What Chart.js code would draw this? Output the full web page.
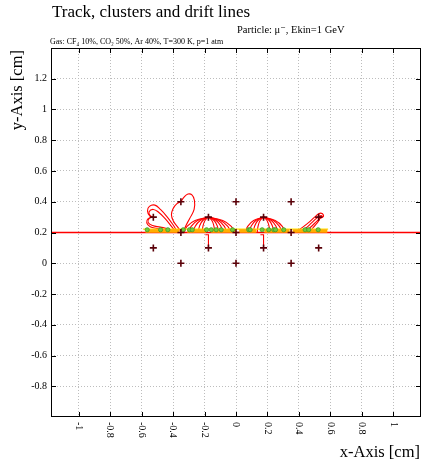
<!DOCTYPE html>
<html>
<head>
<meta charset="utf-8">
<script src="https://cdn.jsdelivr.net/npm/chart.js@4.4.1/dist/chart.umd.min.js"></script>
<style>
html,body{margin:0;padding:0;background:#fff;}
canvas{display:block;}
</style>
</head>
<body>
<canvas id="c" width="423" height="468"></canvas>
<script>
// ---- data ----
const titleText = "Track, clusters and drift lines";
const particleText = "Particle: \u03bc\u207b, Ekin=1 GeV";
const gasText = "Gas: CF\u2084 10%, CO\u2082 50%, Ar 40%, T=300 K, p=1 atm";
const xAxisTitle = "x-Axis [cm]";
const yAxisTitle = "y-Axis [cm]";

const xTicks = [-1, -0.8, -0.6, -0.4, -0.2, 0, 0.2, 0.4, 0.6, 0.8, 1];
const xTickLabels = ["-1", "-0.8", "-0.6", "-0.4", "-0.2", "0", "0.2", "0.4", "0.6", "0.8", "1"];
const yTicks = [-0.8, -0.6, -0.4, -0.2, 0, 0.2, 0.4, 0.6, 0.8, 1, 1.2];
const yTickLabels = ["-0.8", "-0.6", "-0.4", "-0.2", "0", "0.2", "0.4", "0.6", "0.8", "1", "1.2"];
const xRange = [-1.175, 1.175];
const yRange = [-1, 1.4];

// track
const trackX = [-1.175, 1.175];
const trackY = [0.2, 0.2];

// sense wires
const wireX = [-0.35, 0, 0.35, -0.525, -0.175, 0.175, 0.525, -0.35, 0, 0.35, -0.525, -0.175, 0.175, 0.525, -0.35, 0, 0.35];
const wireY = [0.4, 0.4, 0.4, 0.3, 0.3, 0.3, 0.3, 0.2, 0.2, 0.2, 0.1, 0.1, 0.1, 0.1, 0, 0, 0];

// clusters (green)
const clusterX = [-0.564, -0.479, -0.433, -0.335, -0.295, -0.278, -0.187, -0.157, -0.126, -0.094, -0.022, 0.081, 0.090, 0.166, 0.208, 0.240, 0.251, 0.303, 0.439, 0.462, 0.522];
const clusterY = [0.218, 0.218, 0.218, 0.218, 0.218, 0.218, 0.218, 0.218, 0.218, 0.218, 0.218, 0.218, 0.218, 0.218, 0.218, 0.218, 0.218, 0.218, 0.218, 0.218, 0.218];

// yellow line along the track
const yellowX = [-0.59, 0.585];
const yellowY = [0.222, 0.222];

// orange segments (start, end) at y = orangeY
const orangeStart = [-0.575, -0.31, -0.16, 0.02, 0.18, 0.36];
const orangeEnd   = [-0.36, -0.19, 0.0, 0.13, 0.34, 0.58];
const orangeY = 0.21;

// drift lines: each line is a list of [x, y]
const driftToWireA = [ // wire (-0.525, 0.3)
  [[-0.37,0.2],[-0.40,0.25],[-0.44,0.305],[-0.48,0.35],[-0.515,0.378],[-0.55,0.37],[-0.562,0.34],[-0.548,0.308],[-0.525,0.3]],
  [[-0.38,0.2],[-0.41,0.24],[-0.45,0.29],[-0.49,0.33],[-0.525,0.35],[-0.552,0.335],[-0.545,0.31],[-0.525,0.3]],
  [[-0.39,0.2],[-0.43,0.222],[-0.48,0.235],[-0.53,0.245],[-0.558,0.265],[-0.552,0.29],[-0.525,0.3]],
  [[-0.40,0.2],[-0.45,0.215],[-0.50,0.226],[-0.545,0.238],[-0.567,0.262],[-0.558,0.29],[-0.525,0.3]]
];
const driftToWireB = [ // wire (-0.35, 0.4)
  [[-0.345,0.2],[-0.37,0.235],[-0.398,0.275],[-0.41,0.315],[-0.40,0.355],[-0.375,0.388],[-0.35,0.4]],
  [[-0.335,0.2],[-0.32,0.24],[-0.295,0.29],[-0.266,0.35],[-0.264,0.41],[-0.28,0.445],[-0.305,0.45],[-0.33,0.43],[-0.35,0.4]]
];
const driftToWireC = [ // wire (-0.175, 0.3)
  [[-0.33,0.2],[-0.311,0.24],[-0.26,0.278],[-0.175,0.3]],
  [[-0.30,0.2],[-0.285,0.24],[-0.244,0.278],[-0.175,0.3]],
  [[-0.27,0.2],[-0.259,0.24],[-0.227,0.278],[-0.175,0.3]],
  [[-0.24,0.2],[-0.232,0.24],[-0.211,0.278],[-0.175,0.3]],
  [[-0.215,0.2],[-0.21,0.24],[-0.197,0.278],[-0.175,0.3]],
  [[-0.135,0.2],[-0.14,0.24],[-0.153,0.278],[-0.175,0.3]],
  [[-0.11,0.2],[-0.118,0.24],[-0.139,0.278],[-0.175,0.3]],
  [[-0.085,0.2],[-0.096,0.24],[-0.1255,0.278],[-0.175,0.3]],
  [[-0.06,0.2],[-0.074,0.24],[-0.112,0.278],[-0.175,0.3]],
  [[-0.035,0.2],[-0.052,0.24],[-0.098,0.278],[-0.175,0.3]],
  [[-0.01,0.2],[-0.03,0.24],[-0.084,0.278],[-0.175,0.3]]
];
const driftToWireD = [ // wire (0.175, 0.3)
  [[0.06,0.2],[0.074,0.24],[0.112,0.278],[0.175,0.3]],
  [[0.085,0.2],[0.096,0.24],[0.1255,0.278],[0.175,0.3]],
  [[0.11,0.2],[0.118,0.24],[0.139,0.278],[0.175,0.3]],
  [[0.135,0.2],[0.14,0.24],[0.153,0.278],[0.175,0.3]],
  [[0.215,0.2],[0.21,0.24],[0.197,0.278],[0.175,0.3]],
  [[0.24,0.2],[0.232,0.24],[0.211,0.278],[0.175,0.3]],
  [[0.265,0.2],[0.254,0.24],[0.2245,0.278],[0.175,0.3]],
  [[0.29,0.2],[0.276,0.24],[0.238,0.278],[0.175,0.3]],
  [[0.31,0.2],[0.294,0.24],[0.249,0.278],[0.175,0.3]]
];
const driftToWireE = [ // wire (0.525, 0.3)
  [[0.37,0.2],[0.42,0.232],[0.47,0.272],[0.51,0.31],[0.538,0.326],[0.556,0.312],[0.547,0.297],[0.525,0.3]],
  [[0.40,0.2],[0.44,0.226],[0.48,0.262],[0.515,0.296],[0.54,0.31],[0.55,0.3],[0.525,0.3]],
  [[0.43,0.2],[0.465,0.226],[0.5,0.26],[0.53,0.288],[0.545,0.3],[0.525,0.3]],
  [[0.46,0.2],[0.485,0.226],[0.51,0.256],[0.528,0.282],[0.525,0.3]]
];
const driftDown = [ // to lower wires
  [[-0.195,0.185],[-0.175,0.185],[-0.175,0.1]],
  [[0.155,0.185],[0.175,0.185],[0.175,0.1]]
];

// ---- build datasets ----
const pts = (xs, ys) => xs.map((v, i) => ({x: v, y: ys[i]}));
const linePts = line => line.map(p => ({x: p[0], y: p[1]}));

const datasets = [];
datasets.push({
  label: 'wires', data: pts(wireX, wireY), order: 0,
  pointStyle: 'cross', pointRadius: 3.5, borderColor: '#5a0008', borderWidth: 1.6,
  showLine: false
});
datasets.push({
  label: 'clusters', data: pts(clusterX, clusterY), order: 1,
  pointStyle: 'circle', pointRadius: 2.1, backgroundColor: '#6ccc3c', borderColor: '#3f9a28', borderWidth: 0.8,
  showLine: false
});
orangeStart.forEach((s, i) => {
  datasets.push({
    label: 'orange' + i, data: [{x: s, y: orangeY}, {x: orangeEnd[i], y: orangeY}], order: 2,
    showLine: true, borderColor: '#ffae00', borderWidth: 3.6, pointRadius: 0, tension: 0
  });
});
datasets.push({
  label: 'yellow', data: pts(yellowX, yellowY), order: 3,
  showLine: true, borderColor: '#ffe200', borderWidth: 1.4, pointRadius: 0, tension: 0
});
[driftToWireA, driftToWireB, driftToWireC, driftToWireD, driftToWireE].forEach(group => {
  group.forEach(line => {
    datasets.push({
      label: 'drift', data: linePts(line), order: 4,
      showLine: true, borderColor: '#ff0000', borderWidth: 1.1, pointRadius: 0, tension: 0.45
    });
  });
});
driftDown.forEach(line => {
  datasets.push({
    label: 'driftDown', data: linePts(line), order: 4,
    showLine: true, borderColor: '#ff0000', borderWidth: 1.1, pointRadius: 0, tension: 0
  });
});
datasets.push({
  label: 'track', data: pts(trackX, trackY), order: 5,
  showLine: true, borderColor: '#ff0000', borderWidth: 1.3, pointRadius: 0, tension: 0
});

const SERIF = '"Liberation Serif", "DejaVu Serif", serif';

const decor = {
  id: 'decor',
  afterDraw(chart) {
    const {ctx, chartArea: a, scales: {x, y}} = chart;
    ctx.save();
    // frame
    ctx.strokeStyle = '#000';
    ctx.lineWidth = 1;
    ctx.strokeRect(a.left + 0.5, a.top + 0.5, a.right - a.left - 1, a.bottom - a.top - 1);
    // inward ticks
    ctx.beginPath();
    xTicks.forEach(v => {
      const px = Math.round(x.getPixelForValue(v)) + 0.5;
      ctx.moveTo(px, a.bottom); ctx.lineTo(px, a.bottom - 5);
      ctx.moveTo(px, a.top); ctx.lineTo(px, a.top + 5);
    });
    yTicks.forEach(v => {
      const py = Math.round(y.getPixelForValue(v)) + 0.5;
      ctx.moveTo(a.left, py); ctx.lineTo(a.left + 5, py);
      ctx.moveTo(a.right, py); ctx.lineTo(a.right - 5, py);
    });
    ctx.stroke();
    // x tick labels rotated clockwise
    ctx.fillStyle = '#000';
    ctx.font = '10px ' + SERIF;
    ctx.textAlign = 'left';
    ctx.textBaseline = 'middle';
    xTicks.forEach((v, i) => {
      const px = x.getPixelForValue(v);
      ctx.save();
      ctx.translate(px, a.bottom + 5);
      ctx.rotate(Math.PI / 2);
      ctx.fillText(xTickLabels[i], 0, 0);
      ctx.restore();
    });
    // titles
    ctx.textBaseline = 'alphabetic';
    ctx.font = '17px ' + SERIF;
    ctx.textAlign = 'left';
    ctx.fillText(titleText, 52, 17);
    ctx.font = '10.5px ' + SERIF;
    ctx.fillText(particleText, 237, 33);
    ctx.font = '8px ' + SERIF;
    ctx.fillText(gasText, 50, 44);
    // x axis title
    ctx.font = '16.5px ' + SERIF;
    ctx.textAlign = 'right';
    ctx.fillText(xAxisTitle, 420, 457);
    // y axis title
    ctx.save();
    ctx.translate(22, 50);
    ctx.rotate(-Math.PI / 2);
    ctx.textAlign = 'right';
    ctx.fillText(yAxisTitle, 0, 0);
    ctx.restore();
    ctx.restore();
  }
};

new Chart(document.getElementById('c'), {
  type: 'scatter',
  data: { datasets },
  options: {
    responsive: false,
    animation: false,
    devicePixelRatio: 1,
    layout: { autoPadding: false, padding: { top: 48, right: 2, left: 0, bottom: 0 } },
    plugins: { legend: { display: false }, tooltip: { enabled: false }, title: { display: false } },
    scales: {
      x: {
        type: 'linear', min: xRange[0], max: xRange[1],
        afterBuildTicks: s => { s.ticks = xTicks.map(v => ({value: v})); },
        afterFit: s => { s.height = 51; },
        ticks: { display: false },
        grid: { color: '#bdbdbd', lineWidth: 1, drawTicks: false },
        border: { display: false, dash: [1, 2] }
      },
      y: {
        type: 'linear', min: yRange[0], max: yRange[1],
        afterBuildTicks: s => { s.ticks = yTicks.map(v => ({value: v})); },
        afterFit: s => { s.width = 51; },
        ticks: {
          color: '#000', padding: 4,
          font: { family: SERIF, size: 10 },
          callback: (v) => { const i = yTicks.indexOf(v); return i >= 0 ? yTickLabels[i] : ''; }
        },
        grid: { color: '#bdbdbd', lineWidth: 1, drawTicks: false },
        border: { display: false, dash: [1, 2] }
      }
    }
  },
  plugins: [decor]
});
</script>
</body>
</html>
